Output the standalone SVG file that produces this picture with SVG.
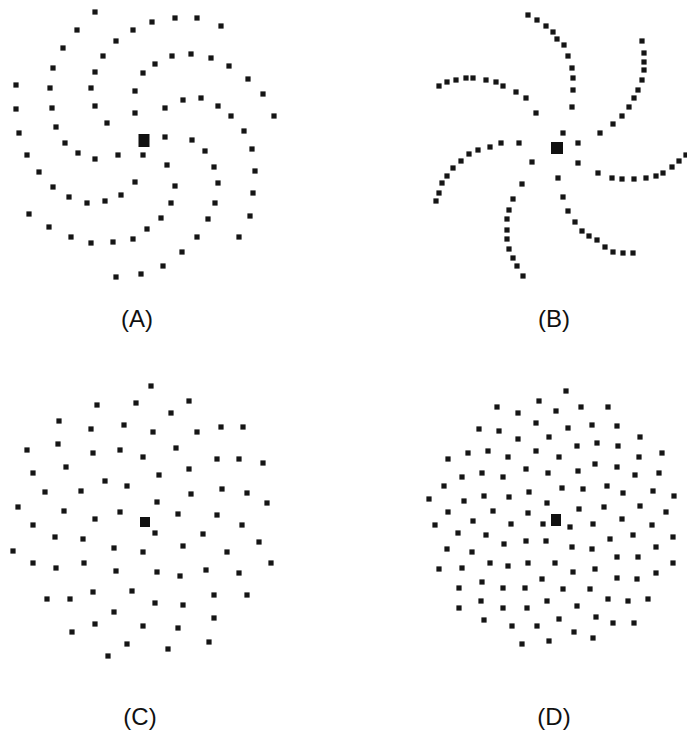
<svg xmlns="http://www.w3.org/2000/svg" xmlns:xlink="http://www.w3.org/1999/xlink" width="687" height="733" viewBox="0 0 687 733">
<style>
.lbl{font-family:"Liberation Sans",Arial,sans-serif;font-size:24px;fill:#111;text-anchor:middle}
use{fill:#151515}
.c{fill:#111}
</style>
<defs>
<rect id="d" x="-2.6" y="-2.6" width="5.2" height="5.2"/>
</defs>
<rect width="687" height="733" fill="#fff"/>
<g id="panelA">
<rect class="c" x="138.5" y="134" width="11" height="13"/>
<use href="#d" x="95" y="12"/><use href="#d" x="77" y="30"/><use href="#d" x="133" y="30"/><use href="#d" x="152" y="22"/><use href="#d" x="175" y="18"/><use href="#d" x="197" y="18"/><use href="#d" x="221" y="26"/><use href="#d" x="116" y="41"/><use href="#d" x="63" y="48"/><use href="#d" x="103" y="56"/><use href="#d" x="172" y="56"/><use href="#d" x="191" y="54"/><use href="#d" x="211" y="58"/><use href="#d" x="155" y="64"/><use href="#d" x="229" y="66"/><use href="#d" x="53" y="68"/><use href="#d" x="95" y="72"/><use href="#d" x="143" y="73"/><use href="#d" x="248" y="79"/><use href="#d" x="16" y="85"/><use href="#d" x="50" y="88"/><use href="#d" x="91" y="88"/><use href="#d" x="135" y="91"/><use href="#d" x="263" y="94"/><use href="#d" x="183" y="100"/><use href="#d" x="201" y="98"/><use href="#d" x="165" y="108"/><use href="#d" x="218" y="106"/><use href="#d" x="16" y="109"/><use href="#d" x="52" y="108"/><use href="#d" x="95" y="106"/><use href="#d" x="135" y="113"/><use href="#d" x="231" y="116"/><use href="#d" x="274" y="116"/><use href="#d" x="107" y="123"/><use href="#d" x="56" y="127"/><use href="#d" x="244" y="131"/><use href="#d" x="19" y="133"/><use href="#d" x="165" y="137"/><use href="#d" x="192" y="140"/><use href="#d" x="65" y="143"/><use href="#d" x="252" y="149"/><use href="#d" x="78" y="153"/><use href="#d" x="95" y="159"/><use href="#d" x="118" y="155"/><use href="#d" x="143" y="155"/><use href="#d" x="205" y="151"/><use href="#d" x="27" y="155"/><use href="#d" x="167" y="165"/><use href="#d" x="214" y="167"/><use href="#d" x="255" y="171"/><use href="#d" x="39" y="172"/><use href="#d" x="135" y="182"/><use href="#d" x="175" y="186"/><use href="#d" x="218" y="183"/><use href="#d" x="53" y="187"/><use href="#d" x="253" y="193"/><use href="#d" x="69" y="197"/><use href="#d" x="121" y="195"/><use href="#d" x="87" y="203"/><use href="#d" x="105" y="201"/><use href="#d" x="171" y="203"/><use href="#d" x="215" y="203"/><use href="#d" x="29" y="214"/><use href="#d" x="161" y="218"/><use href="#d" x="208" y="219"/><use href="#d" x="250" y="216"/><use href="#d" x="49" y="227"/><use href="#d" x="147" y="229"/><use href="#d" x="71" y="237"/><use href="#d" x="91" y="243"/><use href="#d" x="113" y="242"/><use href="#d" x="133" y="239"/><use href="#d" x="197" y="237"/><use href="#d" x="239" y="237"/><use href="#d" x="182" y="252"/><use href="#d" x="163" y="266"/><use href="#d" x="141" y="274"/><use href="#d" x="116" y="277"/>
</g>
<g id="panelB">
<rect class="c" x="551" y="142" width="12" height="12"/>
<use href="#d" x="528" y="15"/><use href="#d" x="537" y="20"/><use href="#d" x="546" y="26"/><use href="#d" x="553" y="32"/><use href="#d" x="557" y="39"/><use href="#d" x="564" y="45"/><use href="#d" x="568" y="56"/><use href="#d" x="572" y="68"/><use href="#d" x="573" y="78"/><use href="#d" x="573" y="90"/><use href="#d" x="572" y="107"/>
<use href="#d" x="642" y="41"/><use href="#d" x="644" y="53"/><use href="#d" x="644" y="62"/><use href="#d" x="644" y="70"/><use href="#d" x="642" y="80"/><use href="#d" x="638" y="90"/><use href="#d" x="634" y="98"/><use href="#d" x="629" y="107"/><use href="#d" x="622" y="116"/><use href="#d" x="613" y="124"/><use href="#d" x="600" y="133"/>
<use href="#d" x="439" y="86"/><use href="#d" x="447" y="82"/><use href="#d" x="456" y="80"/><use href="#d" x="466" y="78"/><use href="#d" x="473" y="78"/><use href="#d" x="486" y="80"/><use href="#d" x="496" y="82"/><use href="#d" x="503" y="86"/><use href="#d" x="516" y="92"/><use href="#d" x="526" y="98"/><use href="#d" x="536" y="113"/>
<use href="#d" x="563" y="133"/><use href="#d" x="578" y="143"/>
<use href="#d" x="519" y="143"/><use href="#d" x="501" y="143"/><use href="#d" x="490" y="147"/><use href="#d" x="478" y="150"/><use href="#d" x="469" y="154"/><use href="#d" x="461" y="161"/><use href="#d" x="453" y="168"/><use href="#d" x="447" y="176"/><use href="#d" x="442" y="183"/><use href="#d" x="439" y="193"/><use href="#d" x="436" y="201"/>
<use href="#d" x="532" y="162"/><use href="#d" x="522" y="184"/><use href="#d" x="513" y="199"/><use href="#d" x="509" y="210"/><use href="#d" x="507" y="219"/><use href="#d" x="507" y="230"/><use href="#d" x="507" y="239"/><use href="#d" x="509" y="249"/><use href="#d" x="513" y="258"/><use href="#d" x="517" y="266"/><use href="#d" x="523" y="276"/>
<use href="#d" x="578" y="163"/><use href="#d" x="598" y="173"/><use href="#d" x="612" y="178"/><use href="#d" x="622" y="179"/><use href="#d" x="634" y="179"/><use href="#d" x="646" y="178"/><use href="#d" x="656" y="176"/><use href="#d" x="663" y="173"/><use href="#d" x="672" y="167"/><use href="#d" x="679" y="161"/><use href="#d" x="686" y="155"/>
<use href="#d" x="558" y="178"/><use href="#d" x="563" y="197"/><use href="#d" x="568" y="211"/><use href="#d" x="575" y="222"/><use href="#d" x="582" y="231"/><use href="#d" x="589" y="236"/><use href="#d" x="597" y="240"/><use href="#d" x="605" y="247"/><use href="#d" x="613" y="252"/><use href="#d" x="623" y="253"/><use href="#d" x="633" y="253"/>
</g>
<g id="panelC">
<rect class="c" x="140" y="517" width="10" height="10"/>
<use href="#d" x="151" y="386"/><use href="#d" x="97" y="405"/><use href="#d" x="136" y="403"/><use href="#d" x="189" y="401"/><use href="#d" x="171" y="413"/><use href="#d" x="59" y="421"/><use href="#d" x="91" y="429"/><use href="#d" x="124" y="425"/><use href="#d" x="153" y="432"/><use href="#d" x="197" y="432"/><use href="#d" x="221" y="427"/><use href="#d" x="243" y="427"/><use href="#d" x="27" y="450"/><use href="#d" x="58" y="444"/><use href="#d" x="93" y="453"/><use href="#d" x="120" y="450"/><use href="#d" x="143" y="457"/><use href="#d" x="176" y="448"/><use href="#d" x="217" y="459"/><use href="#d" x="239" y="459"/><use href="#d" x="263" y="463"/><use href="#d" x="33" y="473"/><use href="#d" x="66" y="467"/><use href="#d" x="105" y="481"/><use href="#d" x="127" y="486"/><use href="#d" x="159" y="475"/><use href="#d" x="189" y="469"/><use href="#d" x="45" y="492"/><use href="#d" x="81" y="491"/><use href="#d" x="191" y="494"/><use href="#d" x="222" y="489"/><use href="#d" x="247" y="493"/><use href="#d" x="18" y="507"/><use href="#d" x="64" y="511"/><use href="#d" x="95" y="519"/><use href="#d" x="120" y="512"/><use href="#d" x="157" y="502"/><use href="#d" x="178" y="514"/><use href="#d" x="217" y="515"/><use href="#d" x="267" y="503"/><use href="#d" x="33" y="525"/><use href="#d" x="55" y="537"/><use href="#d" x="83" y="539"/><use href="#d" x="155" y="533"/><use href="#d" x="203" y="534"/><use href="#d" x="242" y="525"/><use href="#d" x="13" y="551"/><use href="#d" x="114" y="548"/><use href="#d" x="143" y="552"/><use href="#d" x="183" y="546"/><use href="#d" x="227" y="552"/><use href="#d" x="259" y="542"/><use href="#d" x="33" y="563"/><use href="#d" x="56" y="568"/><use href="#d" x="84" y="563"/><use href="#d" x="116" y="571"/><use href="#d" x="157" y="572"/><use href="#d" x="180" y="576"/><use href="#d" x="206" y="570"/><use href="#d" x="239" y="573"/><use href="#d" x="271" y="563"/><use href="#d" x="47" y="599"/><use href="#d" x="70" y="599"/><use href="#d" x="93" y="592"/><use href="#d" x="132" y="591"/><use href="#d" x="155" y="603"/><use href="#d" x="183" y="605"/><use href="#d" x="214" y="595"/><use href="#d" x="247" y="595"/><use href="#d" x="114" y="612"/><use href="#d" x="214" y="618"/><use href="#d" x="72" y="632"/><use href="#d" x="95" y="624"/><use href="#d" x="143" y="626"/><use href="#d" x="178" y="628"/><use href="#d" x="127" y="644"/><use href="#d" x="168" y="649"/><use href="#d" x="209" y="642"/><use href="#d" x="108" y="656"/>
</g>
<g id="panelD">
<rect class="c" x="551" y="514" width="10" height="12"/>
<use href="#d" x="566" y="391"/><use href="#d" x="497" y="407"/><use href="#d" x="539" y="401"/><use href="#d" x="581" y="407"/><use href="#d" x="608" y="407"/><use href="#d" x="518" y="413"/><use href="#d" x="556" y="411"/><use href="#d" x="479" y="429"/><use href="#d" x="499" y="431"/><use href="#d" x="536" y="423"/><use href="#d" x="568" y="428"/><use href="#d" x="592" y="425"/><use href="#d" x="617" y="426"/><use href="#d" x="518" y="439"/><use href="#d" x="549" y="437"/><use href="#d" x="577" y="446"/><use href="#d" x="597" y="443"/><use href="#d" x="618" y="446"/><use href="#d" x="640" y="437"/><use href="#d" x="448" y="459"/><use href="#d" x="468" y="453"/><use href="#d" x="488" y="451"/><use href="#d" x="508" y="457"/><use href="#d" x="536" y="451"/><use href="#d" x="559" y="457"/><use href="#d" x="595" y="464"/><use href="#d" x="617" y="467"/><use href="#d" x="639" y="457"/><use href="#d" x="662" y="453"/><use href="#d" x="444" y="486"/><use href="#d" x="462" y="477"/><use href="#d" x="482" y="473"/><use href="#d" x="503" y="477"/><use href="#d" x="526" y="469"/><use href="#d" x="548" y="473"/><use href="#d" x="578" y="471"/><use href="#d" x="607" y="486"/><use href="#d" x="635" y="475"/><use href="#d" x="659" y="473"/><use href="#d" x="429" y="499"/><use href="#d" x="464" y="501"/><use href="#d" x="484" y="496"/><use href="#d" x="509" y="497"/><use href="#d" x="529" y="492"/><use href="#d" x="562" y="488"/><use href="#d" x="583" y="489"/><use href="#d" x="623" y="493"/><use href="#d" x="653" y="491"/><use href="#d" x="674" y="496"/><use href="#d" x="448" y="512"/><use href="#d" x="473" y="521"/><use href="#d" x="493" y="511"/><use href="#d" x="511" y="524"/><use href="#d" x="528" y="513"/><use href="#d" x="547" y="503"/><use href="#d" x="543" y="524"/><use href="#d" x="570" y="527"/><use href="#d" x="579" y="509"/><use href="#d" x="593" y="524"/><use href="#d" x="604" y="507"/><use href="#d" x="622" y="519"/><use href="#d" x="640" y="506"/><use href="#d" x="652" y="525"/><use href="#d" x="666" y="512"/><use href="#d" x="435" y="525"/><use href="#d" x="458" y="533"/><use href="#d" x="486" y="535"/><use href="#d" x="504" y="544"/><use href="#d" x="526" y="541"/><use href="#d" x="546" y="541"/><use href="#d" x="572" y="547"/><use href="#d" x="592" y="549"/><use href="#d" x="610" y="539"/><use href="#d" x="633" y="535"/><use href="#d" x="656" y="547"/><use href="#d" x="673" y="537"/><use href="#d" x="447" y="549"/><use href="#d" x="472" y="552"/><use href="#d" x="490" y="563"/><use href="#d" x="508" y="566"/><use href="#d" x="528" y="563"/><use href="#d" x="555" y="563"/><use href="#d" x="573" y="572"/><use href="#d" x="595" y="569"/><use href="#d" x="617" y="557"/><use href="#d" x="638" y="557"/><use href="#d" x="673" y="563"/><use href="#d" x="439" y="569"/><use href="#d" x="462" y="568"/><use href="#d" x="482" y="582"/><use href="#d" x="503" y="588"/><use href="#d" x="525" y="588"/><use href="#d" x="542" y="579"/><use href="#d" x="563" y="589"/><use href="#d" x="590" y="589"/><use href="#d" x="617" y="578"/><use href="#d" x="637" y="579"/><use href="#d" x="656" y="573"/><use href="#d" x="459" y="588"/><use href="#d" x="459" y="608"/><use href="#d" x="481" y="601"/><use href="#d" x="503" y="608"/><use href="#d" x="527" y="608"/><use href="#d" x="547" y="601"/><use href="#d" x="577" y="606"/><use href="#d" x="608" y="599"/><use href="#d" x="628" y="601"/><use href="#d" x="648" y="599"/><use href="#d" x="484" y="620"/><use href="#d" x="512" y="626"/><use href="#d" x="537" y="626"/><use href="#d" x="559" y="619"/><use href="#d" x="596" y="617"/><use href="#d" x="613" y="623"/><use href="#d" x="634" y="623"/><use href="#d" x="522" y="644"/><use href="#d" x="549" y="641"/><use href="#d" x="574" y="632"/><use href="#d" x="593" y="638"/>
</g>
<g id="labels">
<text class="lbl" x="137" y="327">(A)</text>
<text class="lbl" x="554" y="327">(B)</text>
<text class="lbl" x="140" y="725">(C)</text>
<text class="lbl" x="554" y="725">(D)</text>
</g>
</svg>
